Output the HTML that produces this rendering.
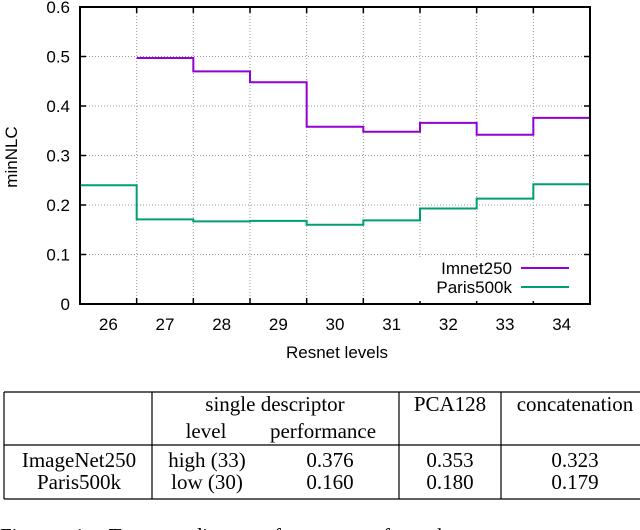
<!DOCTYPE html>
<html><head><meta charset="utf-8"><style>
html,body{margin:0;padding:0;background:#fff;width:640px;height:530px;overflow:hidden}
svg{display:block}
.s{font-family:"Liberation Sans",sans-serif;font-size:17px;fill:#000}
.t{font-family:"Liberation Serif",serif;font-size:21px;fill:#000}
</style></head><body>
<svg id="fig" width="640" height="530" xmlns="http://www.w3.org/2000/svg">
<g id="chart"></g>
<g id="tbl">
  <line x1="4" y1="392" x2="640" y2="392" stroke="#000" stroke-width="1.2"/>
  <line x1="4" y1="445" x2="640" y2="445" stroke="#000" stroke-width="1.2"/>
  <line x1="4" y1="499" x2="640" y2="499" stroke="#000" stroke-width="1.2"/>
  <line x1="4" y1="392" x2="4" y2="499" stroke="#000" stroke-width="1.2"/>
  <line x1="152" y1="392" x2="152" y2="499" stroke="#000" stroke-width="1.2"/>
  <line x1="399" y1="392" x2="399" y2="499" stroke="#000" stroke-width="1.2"/>
  <line x1="501" y1="392" x2="501" y2="499" stroke="#000" stroke-width="1.2"/>
  <g class="t" text-anchor="middle">
    <text x="275" y="411">single descriptor</text>
    <text x="206" y="438">level</text>
    <text x="323" y="438">performance</text>
    <text x="450" y="411">PCA128</text>
    <text x="575" y="411">concatenation</text>
    <text x="79" y="467">ImageNet250</text>
    <text x="207" y="467">high (33)</text>
    <text x="330" y="467">0.376</text>
    <text x="450" y="467">0.353</text>
    <text x="575" y="467">0.323</text>
    <text x="79" y="489">Paris500k</text>
    <text x="207" y="489">low (30)</text>
    <text x="330" y="489">0.160</text>
    <text x="450" y="489">0.180</text>
    <text x="575" y="489">0.179</text>
  </g>
  <text class="t" x="0" y="543" style="word-spacing:14px">Figure 1.  Top: median performance of each</text>
</g>
</svg>
<script>
const categories=[26,27,28,29,30,31,32,33,34];
const imnetValues=[null,0.497,0.470,0.448,0.358,0.348,0.366,0.342,0.376];
const parisValues=[0.240,0.171,0.167,0.168,0.160,0.169,0.193,0.213,0.242];
const yTicks=[0,0.1,0.2,0.3,0.4,0.5,0.6];
const yTickLabels=["0","0.1","0.2","0.3","0.4","0.5","0.6"];
const seriesNames=["Imnet250","Paris500k"];

const NS="http://www.w3.org/2000/svg";
const L=80,R=590,T=7,B=304;
const xmin=categories[0]-0.5,xmax=categories[categories.length-1]+0.5;
const X=v=>L+(v-xmin)/(xmax-xmin)*(R-L);
const Y=v=>B-(v-0)/(0.6-0)*(B-T);
const g=document.getElementById('chart');
function mk(tag,attrs,parent){const e=document.createElementNS(NS,tag);for(const k in attrs)e.setAttribute(k,attrs[k]);(parent||g).appendChild(e);return e;}

yTicks.forEach((v,i)=>{
  if(v>0&&v<0.6){
    const l=mk('line',{x1:L,x2:R,y1:Y(v),y2:Y(v),stroke:'#999','stroke-width':1,'stroke-dasharray':'1,2'});
    
    
  }
  mk('line',{x1:L,x2:L+6,y1:Y(v),y2:Y(v),stroke:'#000','stroke-width':1.5});
  mk('line',{x1:R-6,x2:R,y1:Y(v),y2:Y(v),stroke:'#000','stroke-width':1.5});
  const t=mk('text',{x:70,y:Y(v)+6,'text-anchor':'end',class:'s'});
  t.textContent=yTickLabels[i];
  
  
});
categories.forEach((c,i)=>{
  if(i>0){
    const l=mk('line',{x1:X(c-0.5),x2:X(c-0.5),y1:T,y2:B,stroke:'#999','stroke-width':1,'stroke-dasharray':'1,2'});
    
    
    mk('line',{x1:X(c-0.5),x2:X(c-0.5),y1:B-6,y2:B,stroke:'#000','stroke-width':1.5});
    mk('line',{x1:X(c-0.5),x2:X(c-0.5),y1:T,y2:T+6,stroke:'#000','stroke-width':1.5});
  }
  const t=mk('text',{x:X(c),y:330,'text-anchor':'middle',class:'s'});
  t.textContent=String(c);
  
  
});

const lb=mk('rect',{x:418,y:257,width:170,height:44,fill:'#fff'});



function stepPath(vals){
  let d='';let prev=null;
  categories.forEach((c,i)=>{
    const v=vals[i];if(v==null){prev=null;return;}
    if(prev==null)d+='M'+X(c-0.5)+','+Y(v);
    else d+='L'+X(c-0.5)+','+Y(v);
    d+='L'+X(c+0.5)+','+Y(v);prev=v;
  });
  return d;
}
const p1=mk('path',{d:stepPath(imnetValues),fill:'none',stroke:'#9400d3','stroke-width':2});


const p2=mk('path',{d:stepPath(parisValues),fill:'none',stroke:'#009e73','stroke-width':2});



const colors=['#9400d3','#009e73'];
[268,287].forEach((y,i)=>{
  const t=mk('text',{x:512,y:y+6,'text-anchor':'end',class:'s'});
  t.textContent=seriesNames[i];
  
  
  const l=mk('line',{x1:521,x2:569,y1:y,y2:y,stroke:colors[i],'stroke-width':2});
  
  
});

const fr=mk('rect',{x:L,y:T,width:R-L,height:B-T,fill:'none',stroke:'#000','stroke-width':2});



const xt=mk('text',{x:337,y:358,'text-anchor':'middle',class:'s'});
xt.textContent='Resnet levels';


const yt=mk('text',{x:0,y:0,'text-anchor':'middle',class:'s',transform:'translate(17,157) rotate(-90)'});
yt.textContent='minNLC';


</script>
</body></html>
